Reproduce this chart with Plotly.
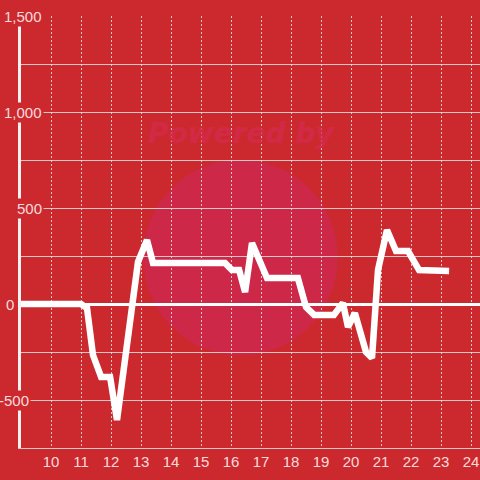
"""Recreation of a red line chart with white series."""

import plotly.graph_objects as go

BG = "#cc292f"
GRID = "rgba(225,225,225,0.85)"
LABEL = "rgba(255,240,240,0.9)"

x_values = [9.0, 11.0, 11.2, 11.4, 11.67, 11.97, 12.2, 12.9, 13.2, 13.4, 15.8, 16.03,
            16.27, 16.47, 16.7, 16.97, 17.2, 18.23, 18.5, 18.77, 19.43, 19.73, 19.9,
            20.13, 20.5, 20.7, 20.9, 21.2, 21.5, 21.9, 22.27, 23.27]
y_values = [0, 0, -21, -266, -380, -380, -604, 219, 333, 214, 214, 177,
            177, 62, 318, 214, 135, 135, -16, -57, -57, 5, -120,
            -47, -250, -281, 177, 385, 276, 276, 177, 172]

x_ticks = list(range(10, 25))
y_grid = [-750, -500, -250, 0, 250, 500, 750, 1000, 1250, 1500]
y_ticks = [-500, 0, 500, 1000, 1500]
y_tick_text = ["-500", "0", "500", "1,000", "1,500"]

fig = go.Figure()
fig.add_trace(go.Scatter(
    x=x_values, y=y_values, mode="lines",
    line=dict(color="white", width=6.5),
    hoverinfo="skip", showlegend=False,
))

# watermark
fig.add_shape(type="circle", xref="paper", yref="paper",
              x0=0.266, x1=0.69, y0=0.215, y1=0.667,
              fillcolor="rgba(205,40,80,0.75)", line=dict(width=0), layer="below")
fig.add_annotation(text="<b><i>Powered by</i></b>", xref="paper", yref="paper",
                   x=0.48, y=0.77, showarrow=False,
                   font=dict(size=28, color="rgba(212,42,78,0.8)", family="DejaVu Sans"))

# y labels sit on top of the axis line, each with its own right edge
label_right = {-500: 0.022, 0: -0.01, 500: 0.05, 1000: 0.05, 1500: 0.05}
for v, t in zip(y_ticks, y_tick_text):
    fig.add_annotation(text=t, xref="paper", yref="y", x=label_right[v], y=v,
                       xanchor="right", yanchor="middle", showarrow=False,
                       bgcolor=BG, borderpad=1,
                       font=dict(size=15, color=LABEL, family="Liberation Sans"))

fig.update_layout(
    width=480, height=480,
    margin=dict(l=21, r=0, t=16, b=32, autoexpand=False),
    paper_bgcolor=BG, plot_bgcolor=BG,
    font=dict(family="Liberation Sans", size=15, color=LABEL),
    xaxis=dict(
        range=[9, 24.3], tickvals=x_ticks, showgrid=True, gridcolor=GRID,
        griddash="2px,2px", gridwidth=1, zeroline=False, automargin=False,
        showline=True, linecolor=GRID, linewidth=1, ticks="",
    ),
    yaxis=dict(
        range=[-750, 1500], tickvals=y_grid, showticklabels=False, automargin=False,
        showgrid=True, gridcolor=GRID, gridwidth=1,
        zeroline=True, zerolinecolor="white", zerolinewidth=3,
        showline=True, linecolor="#f2f2f2", linewidth=3, ticks="",
    ),
)

# drop the default 8px page margin so the figure sits at the window corner
fig.write_html("out.html", config={"displayModeBar": False},
               post_script="document.body.style.margin='0';")
